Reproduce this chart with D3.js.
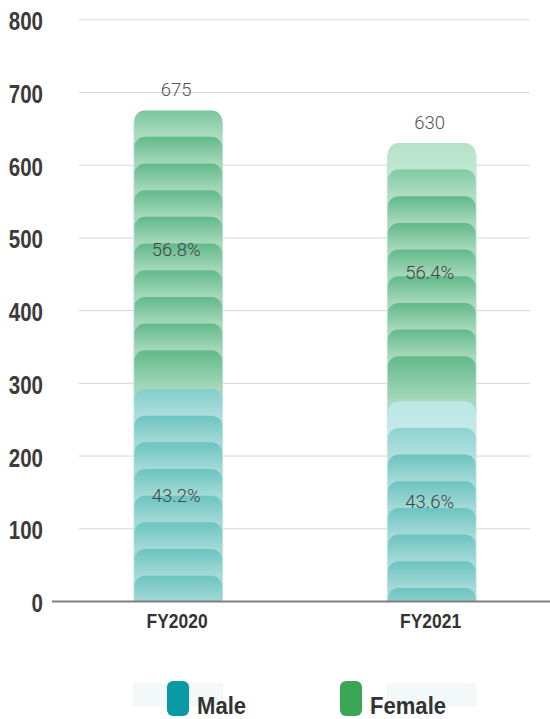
<!DOCTYPE html>
<html>
<head>
<meta charset="utf-8">
<script src="https://cdn.jsdelivr.net/npm/d3@7/dist/d3.min.js"></script>
<style>
  html, body { margin: 0; padding: 0; background: #fff; }
  svg { display: block; }
  .narrow { font-family: "Liberation Sans", Arial, sans-serif; font-weight: bold; }
  .light { font-family: Roboto, "Open Sans", sans-serif; font-weight: 300; }
</style>
</head>
<body>
<script>
// ---- data ----
const categories = ["FY2020", "FY2021"];
const totals = [675, 630];
const maleShare = [43.2, 43.6];     // %
const femaleShare = [56.8, 56.4];   // %
const yTicks = [0, 100, 200, 300, 400, 500, 600, 700, 800];
const seriesNames = ["Male", "Female"];

// ---- layout / style ----
const W = 550, H = 719;
const svg = d3.select("body").append("svg").attr("width", W).attr("height", H);
const defs = svg.append("defs");

const y = d3.scaleLinear().domain([0, 800]).range([601, 19.3]);
const x = d3.scalePoint().domain(categories).range([51.5, 558.5]).padding(0.5);
const barW = 90;
const step = 26.67;   // px height of one repeated symbol
const r = 11;         // corner radius

const pal = {
  Female: { top: "#62b98a", bottom: "#a6d9bb", tint: "#d0f0df", bg: "#c3e6d2", legend: "#3aa655" },
  Male:   { top: "#6cc4c0", bottom: "#a4dad7", tint: "#d6f3f4", bg: "#c6e9e5", legend: "#0a9aa6" }
};
const fade = [[0.22], [0.75, 0.3]]; // lighter top symbols per bar

// gridlines
svg.append("g")
  .attr("transform", "translate(79,0)")
  .call(d3.axisRight(y).tickValues(yTicks.filter(v => v > 0)).tickSize(451).tickFormat(""))
  .call(g => g.select(".domain").remove())
  .call(g => g.selectAll("line").attr("stroke", "#d6d6d6").attr("stroke-width", 1));

// y axis labels
svg.append("g")
  .attr("transform", "translate(43,0)")
  .call(d3.axisLeft(y).tickValues(yTicks).tickSize(0).tickPadding(0).tickFormat(d3.format("d")))
  .call(g => g.select(".domain").remove())
  .call(g => g.selectAll("text")
    .attr("class", "narrow")
    .attr("font-size", 25)
    .attr("fill", "#3b3b3b")
    .attr("x", 0)
    .attr("dy", 10.5)
    .attr("text-anchor", "end")
    .attr("transform", "scale(0.82,1)"));

function topRounded(x0, x1, t, b, rr) {
  const rad = Math.min(rr, (b - t));
  return `M${x0},${b}V${t + rad}A${rad},${rad} 0 0 1 ${x0 + rad},${t}H${x1 - rad}A${rad},${rad} 0 0 1 ${x1},${t + rad}V${b}Z`;
}

let gid = 0;
function grad(c0, c1, split) {
  const id = "g" + (gid++);
  const lg = defs.append("linearGradient").attr("id", id)
    .attr("x1", 0).attr("y1", 0).attr("x2", 0).attr("y2", 1);
  lg.append("stop").attr("offset", 0).attr("stop-color", c0);
  lg.append("stop").attr("offset", split).attr("stop-color", c1);
  lg.append("stop").attr("offset", 1).attr("stop-color", c1);
  return `url(#${id})`;
}

categories.forEach((cat, i) => {
  const cx = x(cat);
  const maleVal = totals[i] * maleShare[i] / 100;
  const yTotal = y(totals[i]), yMale = y(maleVal), y0 = y(0);

  const clipId = "clip" + i;
  defs.append("clipPath").attr("id", clipId)
    .append("rect").attr("x", cx - barW / 2).attr("y", yTotal)
    .attr("width", barW).attr("height", y0 - yTotal);

  const g = svg.append("g").attr("clip-path", `url(#${clipId})`);

  // background strips (thin light edge)
  g.append("rect").attr("x", cx - barW / 2).attr("width", barW)
    .attr("y", yTotal + r).attr("height", yMale - yTotal - r).attr("fill", pal.Female.bg);
  g.append("rect").attr("x", cx - barW / 2).attr("width", barW)
    .attr("y", yMale).attr("height", y0 - yMale).attr("fill", pal.Male.bg);

  const portions = [
    { name: "Female", top: yTotal, bot: yMale, last: "stretch" },
    { name: "Male", top: yMale, bot: y0, last: "clip" }
  ];
  const x0 = cx - barW / 2 + 1, x1 = cx + barW / 2 - 1;

  portions.forEach(p => {
    const h = p.bot - p.top;
    const n = p.last === "stretch" ? Math.max(1, Math.floor(h / step)) : Math.ceil(h / step);
    const c = pal[p.name];
    for (let k = 0; k < n; k++) {
      const t = p.top + k * step;
      const visible = (p.last === "stretch" && k === n - 1) ? (p.bot - t) : step;
      const b = t + visible + r;
      const f = (fade[i][k] || 0);
      const cTop = d3.interpolateRgb(c.top, c.tint)(f);
      const cBot = d3.interpolateRgb(c.bottom, c.tint)(f * 0.8);
      g.append("path")
        .attr("d", topRounded(x0, x1, t, b, r))
        .attr("fill", grad(cTop, cBot, visible / (visible + r)));
    }
  });

  // value label
  svg.append("text").attr("class", "light")
    .attr("x", cx - 2).attr("y", yTotal - 14)
    .attr("text-anchor", "middle").attr("font-size", 18.5).attr("fill", "#555")
    .text(d3.format("d")(totals[i]));

  // percent labels (middle of each part)
  const pct = [
    { v: femaleShare[i], yc: (yTotal + yMale) / 2 },
    { v: maleShare[i], yc: (yMale + y0) / 2 }
  ];
  pct.forEach(pl => {
    svg.append("text").attr("class", "light")
      .attr("x", cx - 2).attr("y", pl.yc + 6.7)
      .attr("text-anchor", "middle").attr("font-size", 18.5).attr("fill", "#444")
      .text(d3.format(".1f")(pl.v) + "%");
  });
});

// x axis
svg.append("g")
  .attr("transform", "translate(0,601)")
  .call(d3.axisBottom(x).tickSize(0).tickPadding(0))
  .call(g => g.select(".domain").attr("stroke", "#7f7f7f").attr("stroke-width", 2))
  .call(g => g.selectAll("text")
    .attr("class", "narrow").attr("font-size", 21).attr("fill", "#333")
    .attr("x", -2).attr("y", 27).attr("dy", 0)
    .attr("transform", "scale(0.83,1)"));

// legend
categories.forEach(cat => {
  svg.append("rect").attr("x", x(cat) - barW / 2).attr("y", 683)
    .attr("width", barW).attr("height", 24).attr("fill", "#f2f9f8");
});
const legendPos = [{ sx: 167, tx: 197 }, { sx: 340, tx: 370 }];
seriesNames.forEach((s, j) => {
  svg.append("rect").attr("x", legendPos[j].sx).attr("y", 681)
    .attr("width", 22).attr("height", 35).attr("rx", 6).attr("fill", pal[s].legend);
  svg.append("text").attr("class", "narrow")
    .attr("transform", `translate(${legendPos[j].tx},714) scale(0.92,1)`)
    .attr("font-size", 24).attr("fill", "#333").text(s);
});
</script>
</body>
</html>
